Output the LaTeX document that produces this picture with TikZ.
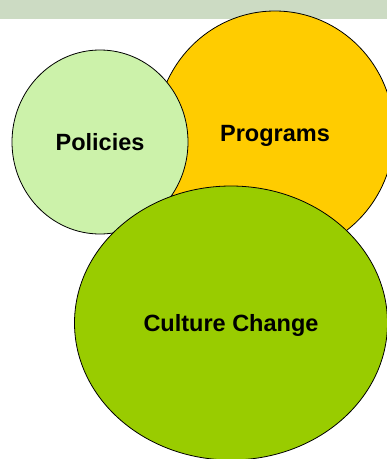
\documentclass[tikz,border=0pt]{standalone}
\usepackage{fontspec}
\setmainfont{Liberation Sans}
\usepackage{tikz}
\usetikzlibrary{positioning}
\usetikzlibrary{shapes.geometric}
\definecolor{bandgreen}{RGB}{204,219,195}
\definecolor{policygreen}{RGB}{204,242,170}
\definecolor{programyellow}{RGB}{255,204,0}
\definecolor{culturegreen}{RGB}{153,204,0}
\tikzstyle{venn blob}=[ellipse,draw=black,line width=0.8pt,inner sep=0pt,text depth=0pt,
  font=\fontsize{23.5}{28}\selectfont\bfseries]
\newcommand{\vennnode}[3][]{
  \node [venn blob, #1] (#2) {#3}
}

\begin{document}
\begin{tikzpicture}[x=1pt,y=-1pt]
        \useasboundingbox (0,0) rectangle (387,459);
        \clip (0,0) rectangle (387,459);
        \fill[bandgreen] (0,0) rectangle (387,19);

        \vennnode[fill=programyellow, minimum width=238pt, minimum height=244pt, at={(275,133)}]{programs}{Programs};
        \vennnode[fill=policygreen, minimum width=176pt, minimum height=184pt, at={(100,142)}]{policies}{Policies};
        \vennnode[fill=culturegreen, minimum width=313pt, minimum height=274pt, at={(231,323)}]{culture}{Culture Change};

      \end{tikzpicture}
\end{document}
